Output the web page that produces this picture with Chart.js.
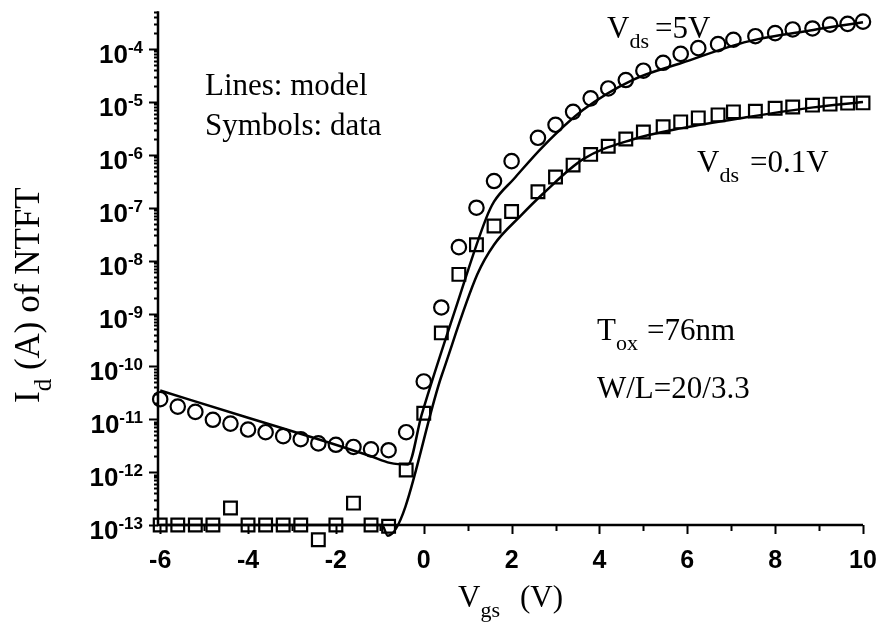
<!DOCTYPE html>
<html>
<head>
<meta charset="utf-8">
<title>NTFT Id-Vgs</title>
<script src="https://cdn.jsdelivr.net/npm/chart.js@4.4.1/dist/chart.umd.min.js"></script>
<style>
  html, body { margin: 0; padding: 0; background: #fff; }
  #wrap { width: 884px; height: 626px; position: relative; background: #fff; }
</style>
</head>
<body>
<div id="wrap"><canvas id="chart"></canvas></div>
<script>
// gate voltage of the measured points (V), shared by both drain biases
const vgs = [-6, -5.6, -5.2, -4.8, -4.4, -4.0, -3.6, -3.2, -2.8, -2.4, -2.0, -1.6, -1.2, -0.8, -0.4,
  0, 0.4, 0.8, 1.2, 1.6, 2.0, 2.6, 3.0, 3.4, 3.8, 4.2, 4.6, 5.0, 5.45, 5.85, 6.25, 6.7, 7.05, 7.55,
  8.0, 8.4, 8.85, 9.25, 9.65, 10];

// measured drain current (A), Vds = 5 V (circles)
const id5V = [2.4e-11, 1.74e-11, 1.38e-11, 9.8e-12, 8.3e-12, 6.4e-12, 5.7e-12, 4.8e-12, 4.2e-12, 3.5e-12,
  3.3e-12, 3.0e-12, 2.7e-12, 2.6e-12, 5.7e-12, 5.2e-11, 1.3e-9, 1.8e-8, 1.0e-7, 3.2e-7, 7.6e-7, 2.1e-6,
  3.7e-6, 6.5e-6, 1.17e-5, 1.8e-5, 2.6e-5, 3.9e-5, 5.5e-5, 8.1e-5, 1.04e-4, 1.24e-4, 1.5e-4, 1.75e-4,
  2.0e-4, 2.35e-4, 2.45e-4, 2.9e-4, 3.0e-4, 3.3e-4];

// measured drain current (A), Vds = 0.1 V (squares)
const id01V = [1e-13, 1e-13, 1e-13, 1e-13, 2.1e-13, 1e-13, 1e-13, 1e-13, 1e-13, 5.3e-14, 1e-13, 2.6e-13,
  1e-13, 9.5e-14, 1.1e-12, 1.3e-11, 4.3e-10, 5.5e-9, 2.0e-8, 4.5e-8, 8.5e-8, 2.0e-7, 3.8e-7, 6.4e-7,
  1.02e-6, 1.45e-6, 2.0e-6, 2.7e-6, 3.4e-6, 4.2e-6, 5.0e-6, 5.7e-6, 6.5e-6, 6.7e-6, 7.6e-6, 8.0e-6,
  8.7e-6, 9.1e-6, 9.5e-6, 9.6e-6];

// model curves
const modelVgs5V = [-6, -4.0, -2.4, -1.2, -0.77, -0.36, -0.05, 0.74, 1.42, 1.6, 2.05, 2.72, 3.63, 4.75, 5.88, 7.39, 8.87, 10];
const modelId5V = [3.5e-11, 1.07e-11, 4.2e-12, 2.0e-12, 1.5e-12, 1.4e-12, 1.2e-11, 1.35e-9, 6.3e-8, 1.3e-7,
  3.5e-7, 1.45e-6, 7.1e-6, 2.6e-5, 5.5e-5, 1.4e-4, 2.3e-4, 3.2e-4];
const modelVgs01V = [-6, -0.95, -0.82, 0.41, 1.22, 1.6, 2.21, 2.72, 3.63, 4.75, 5.88, 7.39, 8.87, 10];
const modelId01V = [1e-13, 1e-13, 6.3e-14, 6.8e-11, 5.5e-9, 2.0e-8, 7.1e-8, 1.86e-7, 8.3e-7, 1.95e-6,
  3.2e-6, 5.2e-6, 7.9e-6, 1e-5];

// axis ticks
const xTicks = [-6, -4, -2, 0, 2, 4, 6, 8, 10];
const yExponents = [-13, -12, -11, -10, -9, -8, -7, -6, -5, -4];
const yAxisFloor = 1e-13;   // the x axis sits here; a few points fall below it

const pairs = (xs, ys) => xs.map((x, i) => ({ x: x, y: ys[i] }));

const SERIF = "'Liberation Serif', 'Times New Roman', serif";
const SANS = "'Liberation Sans', Arial, sans-serif";

// text with optional subscript pieces: parts = [[text, isSub, xOverride]]
function drawParts(ctx, parts, x, y, size) {
    let cx = x;
    parts.forEach(([text, sub, at]) => {
        if (at !== undefined) cx = at;
        ctx.font = `${sub ? Math.round(size * 0.72) : size}px ${SERIF}`;
        ctx.fillText(text, cx, sub ? y + size * 0.33 : y);
        cx += ctx.measureText(text).width;
    });
}

const decorPlugin = {
    id: "decor",
    afterDraw(chart) {
        const { ctx, chartArea, scales: { x, y } } = chart;
        const base = y.getPixelForValue(yAxisFloor);
        ctx.save();
        ctx.strokeStyle = "#000";
        ctx.fillStyle = "#000";

        // axis lines
        ctx.lineWidth = 2.5;
        ctx.beginPath();
        ctx.moveTo(chartArea.left, chartArea.top);
        ctx.lineTo(chartArea.left, base);
        ctx.lineTo(chartArea.right, base);
        ctx.stroke();

        ctx.lineWidth = 2;
        // x ticks, outward
        ctx.beginPath();
        for (let v = -6; v <= 10; v++) {
            const px = Math.round(x.getPixelForValue(v)) + 0.5;
            ctx.moveTo(px, base);
            ctx.lineTo(px, base + (v % 2 === 0 ? 9 : 6));
        }
        ctx.stroke();

        // y ticks, major and minor, outward
        ctx.beginPath();
        yExponents.forEach(e => {
            for (let k = 1; k <= 9; k++) {
                const val = k * Math.pow(10, e);
                if (val > y.max) break;
                const py = Math.round(y.getPixelForValue(val)) + 0.5;
                ctx.moveTo(chartArea.left, py);
                ctx.lineTo(chartArea.left - (k === 1 ? 9 : 4), py);
            }
        });
        ctx.stroke();

        // x tick labels
        ctx.font = `bold 25px ${SANS}`;
        ctx.textAlign = "center";
        ctx.textBaseline = "alphabetic";
        xTicks.forEach(v => {
            ctx.fillText(String(v), x.getPixelForValue(v), base + 43);
        });

        // y tick labels: 10 with superscript exponent
        ctx.textAlign = "left";
        yExponents.forEach(e => {
            const py = y.getPixelForValue(Math.pow(10, e));
            const exp = String(e);
            ctx.font = `bold 17px ${SANS}`;
            const ew = ctx.measureText(exp).width;
            ctx.font = `bold 26px ${SANS}`;
            const bw = ctx.measureText("10").width;
            const right = chartArea.left - 15;
            ctx.fillText("10", right - ew - bw, py + 14);
            ctx.font = `bold 17px ${SANS}`;
            ctx.fillText(exp, right - ew, py + 4);
        });

        // axis titles
        drawParts(ctx, [["V", false], ["gs", true], ["(V)", false, 520]], 458, 607, 31);
        ctx.save();
        ctx.translate(39, 403);
        ctx.rotate(-Math.PI / 2);
        drawParts(ctx, [["I", false], ["d", true], [" (A) of NTFT", false]], 0, 0, 35);
        ctx.restore();

        // annotations
        drawParts(ctx, [["Lines: model", false]], 205, 95, 31);
        drawParts(ctx, [["Symbols: data", false]], 205, 135, 31);
        drawParts(ctx, [["V", false], ["ds", true], ["=5V", false, 655]], 607, 38, 31);
        drawParts(ctx, [["V", false], ["ds", true], ["=0.1V", false, 750]], 697, 172, 31);
        drawParts(ctx, [["T", false], ["ox", true], ["=76nm", false, 647]], 597, 340, 31);
        drawParts(ctx, [["W/L=20/3.3", false]], 597, 398, 31);
        ctx.restore();
    }
};

const ctx = document.getElementById("chart").getContext("2d");
new Chart(ctx, {
    type: "scatter",
    data: {
        datasets: [
            { label: "model Vds=5V", data: pairs(modelVgs5V, modelId5V), showLine: true, pointRadius: 0,
              borderColor: "#000", borderWidth: 2.5, cubicInterpolationMode: "monotone", clip: false },
            { label: "model Vds=0.1V", data: pairs(modelVgs01V, modelId01V), showLine: true, pointRadius: 0,
              borderColor: "#000", borderWidth: 2.5, cubicInterpolationMode: "monotone", clip: false },
            { label: "data Vds=5V", data: pairs(vgs, id5V), pointStyle: "circle", pointRadius: 7.2,
              borderColor: "#000", backgroundColor: "rgba(0,0,0,0)", pointBorderWidth: 2.2, clip: false },
            { label: "data Vds=0.1V", data: pairs(vgs, id01V), pointStyle: "rect", pointRadius: 9,
              borderColor: "#000", backgroundColor: "rgba(0,0,0,0)", pointBorderWidth: 2.2, clip: false }
        ]
    },
    options: {
        responsive: true,
        maintainAspectRatio: false,
        animation: false,
        layout: { padding: { left: 150, right: 21, top: 10, bottom: 77 } },
        plugins: { legend: { display: false }, tooltip: { enabled: false } },
        scales: {
            x: { type: "linear", min: -6.05, max: 10, bounds: "data",
                 ticks: { display: false }, grid: { display: false }, border: { display: false } },
            y: { type: "logarithmic", min: 5e-14, max: 5.2e-4, bounds: "data",
                 ticks: { display: false }, grid: { display: false }, border: { display: false } }
        }
    },
    plugins: [decorPlugin]
});
</script>
</body>
</html>
